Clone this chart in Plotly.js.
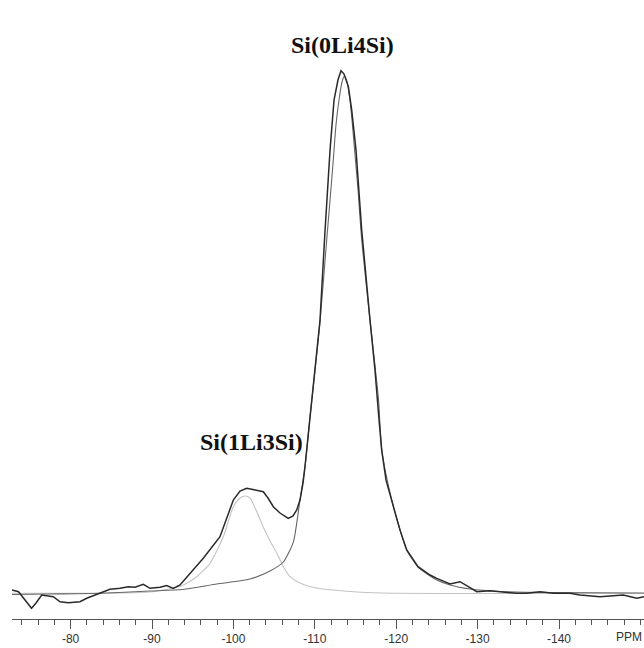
<!DOCTYPE html>
<html>
<head>
<meta charset="utf-8">
<script src="https://cdn.plot.ly/plotly-3.0.1.min.js"></script>
<style>html,body{margin:0;padding:0;background:#fff;}#chart{width:644px;height:648px;}</style>
</head>
<body>
<div id="chart"></div>
<script>
// Experimental 29Si spectrum (chemical shift in ppm, relative intensity)
var expPpm = [-72.8,-73.6,-74.4,-75.2,-75.75,-76.45,-77.87,-78.7,-79.72,-81.15,-81.98,-83.61,-84.84,-86.07,-87.09,-87.91,-88.93,-89.75,-90.98,-91.81,-92.62,-93.44,-94.67,-96.3,-98.35,-99.99,-100.81,-101.63,-102.41,-103.27,-103.67,-104.25,-104.9,-105.72,-106.74,-107.32,-107.78,-108.18,-108.55,-108.8,-109.41,-109.62,-110.15,-110.64,-111.26,-111.87,-112.36,-112.85,-113.22,-113.59,-114.12,-114.53,-115.06,-115.76,-116.78,-117.39,-117.89,-118.22,-118.75,-119.45,-120.47,-121.29,-122.68,-124.15,-124.98,-126.61,-127.84,-128.86,-129.89,-131.52,-133.58,-134.8,-136.03,-137.67,-139.3,-141.35,-142.58,-145.04,-146.67,-147.9,-149.55,-150.44];
var expInt = [0.38,0.06,-1.54,-3.13,-2.12,-0.58,-0.9,-1.87,-2.06,-1.87,-1.21,-0.25,0.52,0.71,1.02,0.9,1.48,0.71,0.9,1.25,0.71,1.35,3.6,6.48,10.63,17.69,19.42,19.94,19.71,19.48,19.29,18.08,16.4,15.19,14.17,14.62,15.77,17.69,20.96,24.23,33.71,36.92,44.6,52.31,69.62,85.0,94.6,98.5,100.25,99.6,97.2,92.7,85.0,69.6,52.3,42.7,33.1,27.3,21.5,17.7,11.9,8.08,4.87,3.27,2.63,1.54,1.98,1.02,0.06,0.25,-0.06,-0.25,-0.25,0.06,-0.25,-0.25,-0.58,-0.9,-0.71,-0.58,-1.21,-0.9];

// Fitted component Si(0Li4Si)
var fitQ4Ppm = [-72.8,-77.47,-83.61,-89.75,-93.81,-97.95,-102.04,-104.5,-106.13,-107.36,-108.18,-108.8,-109.41,-110.03,-110.64,-111.46,-111.87,-112.27,-112.6,-112.97,-113.34,-113.65,-113.96,-114.32,-114.57,-114.94,-115.31,-115.76,-116.78,-117.83,-118.22,-119.45,-120.47,-121.29,-122.68,-124.98,-126.61,-129.07,-132.76,-138.9,-150.44];
var fitQ4Int = [-0.48,-0.38,-0.25,0.19,0.48,1.54,2.5,4.04,5.77,9.6,17.69,24.1,33.71,42.69,51.92,67.69,75.38,83.08,89.81,94.62,98.08,99.23,98.08,94.62,90.77,84.04,77.31,67.69,52.31,36.92,27.31,17.69,11.92,8.08,4.81,2.31,1.35,0.58,0.1,-0.1,-0.19];

// Fitted component Si(1Li3Si)
var fitQ3Ppm = [-72.8,-83.61,-89.75,-93.03,-93.85,-95.49,-97.13,-98.76,-99.99,-100.81,-101.43,-102.04,-102.78,-103.67,-104.5,-105.32,-106.09,-106.95,-108.18,-110.23,-114.32,-118.38,-150.44];
var fitQ3Int = [-0.25,-0.25,0,0.9,1.35,2.94,5.52,10.63,16.4,18.08,18.46,18.08,15.77,12.5,9.81,7.5,5.0,2.94,1.73,0.77,0.1,-0.19,-0.29];

// Axis ticks
var tickVals = [-80,-90,-100,-110,-120,-130,-140];
var tickText = ['-80','-90','-100','-110','-120','-130','-140'];
var axisUnit = 'PPM';

// Peak labels
var peakLabels = ['Si(0Li4Si)','Si(1Li3Si)'];
var peakLabelPpm = [-113.4,-102.2];
var peakLabelInt = [105.2,28.8];

var tickFont = {family:'Liberation Sans Narrow, Arial Narrow, Liberation Sans, Arial, sans-serif', size:12, color:'#333'};

var traces = [
  {x: fitQ3Ppm, y: fitQ3Int, mode:'lines', line:{color:'#c4c4c4', width:1.1, shape:'spline', smoothing:0.6}, hoverinfo:'skip'},
  {x: fitQ4Ppm, y: fitQ4Int, mode:'lines', line:{color:'#666666', width:1.1, shape:'spline', smoothing:0.6}, hoverinfo:'skip'},
  {x: expPpm, y: expInt, mode:'lines', line:{color:'#2a2a2a', width:1.5}, hoverinfo:'skip'}
];

var annotations = peakLabels.map(function(t,i){
  return {text:'<b>' + t + '</b>', x:peakLabelPpm[i], y:peakLabelInt[i], xref:'x', yref:'y', showarrow:false,
          font:{family:'Liberation Serif, Times New Roman, serif', size:24, color:'#111'}, xanchor:'center', yanchor:'middle'};
});
annotations.push({text:axisUnit, x:1, y:0, xref:'paper', yref:'paper', yshift:-18, showarrow:false,
  font:tickFont, xanchor:'right', yanchor:'middle'});

var layout = {
  width:644, height:648,
  margin:{l:12, r:0, t:20, b:29},
  paper_bgcolor:'#fff', plot_bgcolor:'#fff',
  showlegend:false,
  xaxis:{
    range:[-72.8,-150.44], showgrid:false, zeroline:false,
    showline:true, linecolor:'#555', linewidth:1,
    ticks:'outside', ticklen:9, tickwidth:1, tickcolor:'#555',
    tickmode:'array', tickvals:tickVals, ticktext:tickText,
    tickfont:tickFont,
    minor:{tickmode:'linear', tick0:0, dtick:2, ticks:'outside', ticklen:5, tickwidth:1, tickcolor:'#555', showgrid:false}
  },
  yaxis:{range:[-5.19,110], visible:false, showgrid:false, zeroline:false},
  annotations: annotations
};

Plotly.newPlot('chart', traces, layout, {staticPlot:true, displayModeBar:false});
</script>
</body>
</html>
